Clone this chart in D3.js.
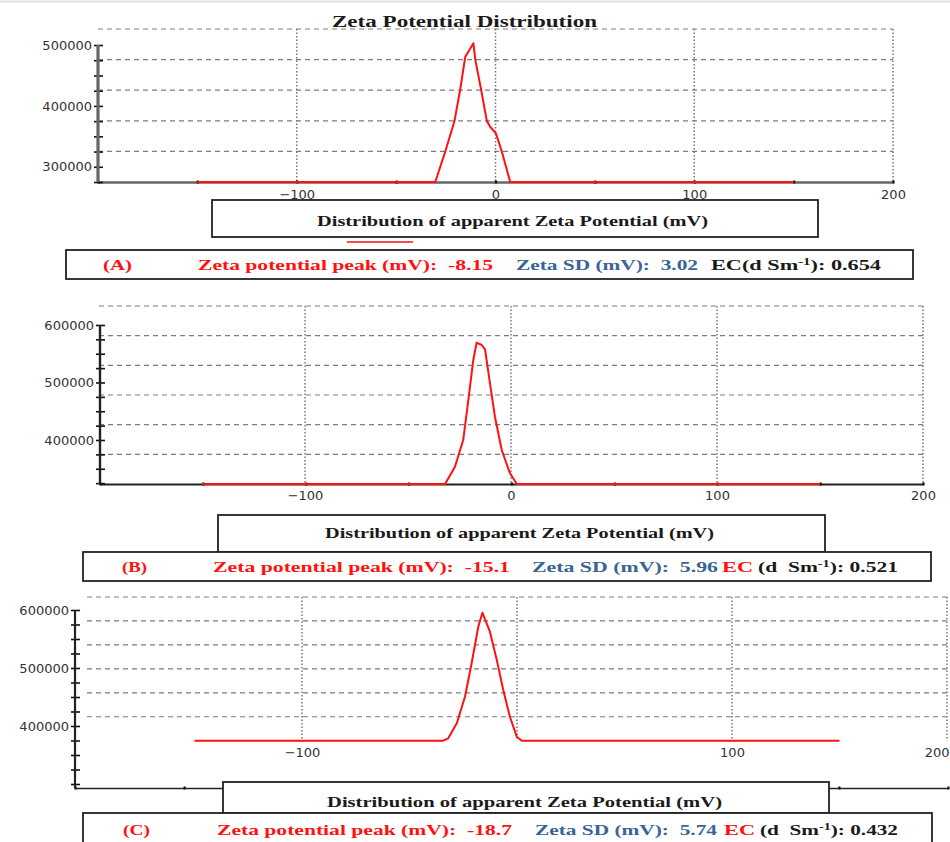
<!DOCTYPE html>
<html>
<head>
<meta charset="utf-8">
<script src="https://cdn.jsdelivr.net/npm/d3@7"></script>
<style>
body { margin: 0; background: #fff; }
svg { display: block; }
text { white-space: pre; }
</style>
</head>
<body>
<div class="container"></div>
<script>
const WIDTH = 950;
const HEIGHT = 842;
const RED = "#ff1111";
const BLUE = "#386593";
const BLACK = "#1a1a1a";

// apparent zeta potential (mV) and counts
var mvA  = [-150, -30.3, -25.3, -20.6, -17.8, -15.2, -11.1, -10.2, -7.2, -4.4, -2.7, 0.2, 3.2, 7.4, 150];
var cntA = [275000, 275000, 324800, 375700, 426100, 480800, 502800, 476500, 426100, 375700, 365800, 355000, 324800, 275000, 275000];

var mvB  = [-150, -32, -27.2, -23.2, -20.7, -18.3, -16.7, -14.2, -12.6, -10.2, -7.8, -4.5, -0.5, 2.8, 150];
var cntB = [323500, 323500, 353600, 400000, 469600, 539200, 569200, 565200, 557700, 498600, 440500, 382600, 342100, 323500, 323500];

var mvC  = [-150, -34.3, -32, -28, -24.2, -21.1, -18, -16.1, -12.6, -9.4, -6.4, -3.3, -0.1, 2.2, 150];
var cntC = [374700, 374700, 378800, 404700, 450500, 508100, 571200, 595300, 562600, 513800, 462100, 416000, 381600, 374700, 374700];

var panelNames = ["(A)", "(B)", "(C)"];
var peakValues = ["-8.15", "-15.1", "-18.7"];
var sdValues = ["3.02", "5.96", "5.74"];
var ecValues = ["0.654", "0.521", "0.432"];

var xTickLabels = [[-100, 0, 100, 200], [-100, 0, 100, 200], [-100, 100, 200]];
var yTickLabels = [[300000, 400000, 500000], [400000, 500000, 600000], [400000, 500000, 600000]];

var chartTitle = "Zeta Potential Distribution";
var xAxisTitle = "Distribution of apparent Zeta Potential (mV)";

// where each of the three pasted screenshots sits on the page
var layout = [
    {mv: mvA, cnt: cntA, xr: [98, 893], ar: [98, 893], axisX: 98, axisY: 182,
     yd: [275000, 526300], yr: [182, 29], gridTop: 526300, gridBottom: 275000, gridN: 5,
     axisTop: 500000, tickStart: 275000, labelY: 199, axisColor: "#666", axisW: 2.6,
     titleBox: [212, 200, 818, 237], titleText: [317, 708, 226],
     infoBox: [66, 250, 913, 279], infoY: 270,
     segX: [[103, 132], [198, 493], [516, 698], [711, 881]]},
    {mv: mvB, cnt: cntB, xr: [99, 923], ar: [100, 923], axisX: 100, axisY: 484,
     yd: [323500, 633000], yr: [484, 306], gridTop: 633000, gridBottom: 323500, gridN: 6,
     axisTop: 600000, tickStart: 325000, labelY: 500, axisColor: "#222", axisW: 1.8,
     titleBox: [218, 515, 825, 552], titleText: [325, 714, 538],
     infoBox: [83, 552, 931, 581], infoY: 572,
     segX: [[122, 147], [213, 510], [532, 718], [722, 753], [758, 898]]},
    {mv: mvC, cnt: cntC, xr: [87, 947], ar: [75, 948], axisX: 75, axisY: 788,
     yd: [293100, 622400], yr: [788, 597], gridTop: 622400, gridBottom: 374700, gridN: 6,
     axisTop: 600000, tickStart: 300000, labelY: 757, axisColor: "#222", axisW: 1.6,
     titleBox: [223, 782, 829, 813], titleText: [327, 722, 807],
     infoBox: [83, 813, 932, 850], infoY: 835,
     segX: [[123, 150], [217, 512], [535, 717], [724, 755], [760, 898]]}
];

var infoSegments = function(i){
    var segs = [
        {t: panelNames[i], c: RED},
        {t: "Zeta potential peak (mV):  " + peakValues[i], c: RED},
        {t: "Zeta SD (mV):  " + sdValues[i], c: BLUE}
    ];
    if (i === 0) {
        segs.push({t: "EC(d Sm", sup: "-1", rest: "): " + ecValues[i], c: BLACK});
    } else {
        segs.push({t: "EC", c: RED});
        segs.push({t: "(d  Sm", sup: "-1", rest: "): " + ecValues[i], c: BLACK});
    }
    return segs;
};

var serifText = function(sel, txt, x0, x1, yb, size, color){
    var t = sel.append("text")
        .attr("x", x0).attr("y", yb)
        .attr("font-family", "'Liberation Serif', 'Times New Roman', serif")
        .attr("font-weight", "bold")
        .attr("font-size", size)
        .attr("fill", color)
        .attr("textLength", x1 - x0)
        .attr("lengthAdjust", "spacingAndGlyphs");
    t.append("tspan").text(txt);
    return t;
};

var drawPanel = function(svg, p, i){
    var x = d3.scaleLinear().domain([-200, 200]).range(p.xr);
    var xa = d3.scaleLinear().domain([-200, 200]).range(p.ar);
    var y = d3.scaleLinear().domain(p.yd).range(p.yr);
    var g = svg.append("g");

    // dashed horizontal grid, equal parts of the plotted range
    var step = (p.gridTop - p.gridBottom) / p.gridN;
    var gridVals = d3.range(p.gridN).map(function(k){ return p.gridTop - k * step; });
    g.selectAll(".hgrid")
        .data(gridVals)
        .enter().append("line")
        .attr("x1", x(-200)).attr("x2", x(200))
        .attr("y1", function(d){ return y(d); })
        .attr("y2", function(d){ return y(d); })
        .attr("stroke", "#7c7c7c")
        .attr("stroke-width", 1.2)
        .attr("stroke-dasharray", "5,4");

    g.selectAll(".vgrid")
        .data([-100, 0, 100, 200])
        .enter().append("line")
        .attr("x1", function(d){ return x(d); })
        .attr("x2", function(d){ return x(d); })
        .attr("y1", y(p.gridTop)).attr("y2", y(p.gridBottom))
        .attr("stroke", "#777")
        .attr("stroke-width", 1.5)
        .attr("stroke-dasharray", "1.5,2");

    // x axis line with small tick marks every 50 mV
    var gx = g.append("g")
        .attr("transform", "translate(0," + p.axisY + ")")
        .call(d3.axisBottom(xa).tickValues(d3.range(-200, 201, 50)).tickSize(3).tickSizeOuter(0).tickFormat(""));
    gx.select(".domain").attr("stroke", p.axisColor).attr("stroke-width", p.axisW);
    gx.selectAll(".tick line").attr("y1", -1.5).attr("y2", 1.5).attr("stroke", "#111").attr("stroke-width", 2.2);

    // y axis
    var minor = d3.range(p.tickStart, p.axisTop + 1, 25000);
    var gy = g.append("g")
        .attr("transform", "translate(" + p.axisX + ",0)")
        .call(d3.axisLeft(y).tickValues(minor).tickSize(4).tickSizeOuter(0)
            .tickFormat(function(d){ return yTickLabels[i].indexOf(d) >= 0 ? d : ""; }));
    gy.select(".domain").remove();
    gy.append("line")
        .attr("y1", y(p.axisTop)).attr("y2", y(p.yd[0]))
        .attr("stroke", p.axisColor).attr("stroke-width", p.axisW + 0.6);
    gy.selectAll(".tick line").attr("x1", -4).attr("x2", 5).attr("stroke", "#111").attr("stroke-width", 1.6);
    gy.selectAll(".tick text")
        .attr("x", -6)
        .attr("font-family", "'DejaVu Sans', sans-serif")
        .attr("font-size", 13)
        .attr("fill", "#333");

    // the distribution
    var line = d3.line()
        .x(function(d, k){ return x(p.mv[k]); })
        .y(function(d, k){ return y(p.cnt[k]); });
    g.append("path")
        .datum(p.cnt)
        .attr("d", line)
        .attr("fill", "none")
        .attr("stroke", RED)
        .attr("stroke-width", 2)
        .attr("stroke-linejoin", "round");

    // x tick labels, kept inside the page
    var gl = g.append("g")
        .attr("transform", "translate(0," + p.labelY + ")")
        .call(d3.axisBottom(x).tickValues(xTickLabels[i]).tickSize(0).tickPadding(0).tickFormat(d3.format("d")));
    gl.select(".domain").remove();
    gl.selectAll(".tick text")
        .attr("y", 0).attr("dy", 0)
        .attr("font-family", "'DejaVu Sans', sans-serif")
        .attr("font-size", 13)
        .attr("fill", "#333")
        .each(function(d){
            var b = this.getBBox();
            var over = x(d) + b.x + b.width - (WIDTH - 1);
            if (over > 0) d3.select(this).attr("x", -over);
        });

    // axis title box and result box
    var tb = p.titleBox;
    g.append("rect")
        .attr("x", tb[0]).attr("y", tb[1]).attr("width", tb[2] - tb[0]).attr("height", tb[3] - tb[1])
        .attr("fill", "#fff").attr("stroke", "#222").attr("stroke-width", 1.8);
    serifText(g, xAxisTitle, p.titleText[0], p.titleText[1], p.titleText[2], 15, BLACK);

    var ib = p.infoBox;
    g.append("rect")
        .attr("x", ib[0]).attr("y", ib[1]).attr("width", ib[2] - ib[0]).attr("height", ib[3] - ib[1])
        .attr("fill", "#fff").attr("stroke", "#222").attr("stroke-width", 1.8);

    infoSegments(i).forEach(function(s, k){
        var t = serifText(g, s.t, p.segX[k][0], p.segX[k][1], p.infoY, 15, s.c);
        if (s.sup) {
            t.append("tspan").attr("font-size", 10).attr("dy", -5).text(s.sup);
            t.append("tspan").attr("font-size", 15).attr("dy", 5).text(s.rest);
        }
    });
};

var svg = d3.select(".container")
    .append("svg")
    .attr("width", WIDTH)
    .attr("height", HEIGHT);

svg.append("line")
    .attr("x1", 0).attr("x2", WIDTH).attr("y1", 1.5).attr("y2", 1.5)
    .attr("stroke", "#e2e2e2").attr("stroke-width", 2);

layout.forEach(function(p, i){ drawPanel(svg, p, i); });

// small red mark under the first axis title box
svg.append("line")
    .attr("x1", 347).attr("x2", 413).attr("y1", 242).attr("y2", 242)
    .attr("stroke", RED).attr("stroke-width", 1.6);

serifText(svg, chartTitle, 332, 597, 27, 17, BLACK);
</script>
</body>
</html>
